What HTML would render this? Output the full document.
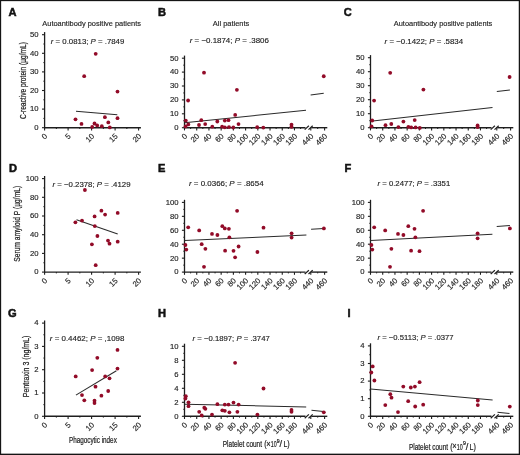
<!DOCTYPE html>
<html><head><meta charset="utf-8"><style>
html,body{margin:0;padding:0;background:#fff;width:520px;height:455px;overflow:hidden}
svg{display:block;filter:blur(0.35px)}
text{font-family:"Liberation Sans", sans-serif; stroke:#1e1e1e; stroke-width:0.15px}
</style></head><body>
<svg width="520" height="455" viewBox="0 0 520 455" style='font-family:"Liberation Sans", sans-serif'>
<rect x="0" y="0" width="520" height="455" fill="#fff"/>
<text x="8.60" y="16.00" font-size="11.1" text-anchor="start" font-weight="bold" fill="#111" style="stroke:#111;stroke-width:0.5px">A</text>
<text x="158.10" y="16.10" font-size="11.1" text-anchor="start" font-weight="bold" fill="#111" style="stroke:#111;stroke-width:0.5px">B</text>
<text x="343.70" y="15.90" font-size="11.1" text-anchor="start" font-weight="bold" fill="#111" style="stroke:#111;stroke-width:0.5px">C</text>
<text x="8.90" y="172.10" font-size="11.1" text-anchor="start" font-weight="bold" fill="#111" style="stroke:#111;stroke-width:0.5px">D</text>
<text x="158.10" y="171.80" font-size="11.1" text-anchor="start" font-weight="bold" fill="#111" style="stroke:#111;stroke-width:0.5px">E</text>
<text x="344.40" y="171.80" font-size="11.1" text-anchor="start" font-weight="bold" fill="#111" style="stroke:#111;stroke-width:0.5px">F</text>
<text x="8.10" y="316.80" font-size="11.1" text-anchor="start" font-weight="bold" fill="#111" style="stroke:#111;stroke-width:0.5px">G</text>
<text x="158.10" y="316.80" font-size="11.1" text-anchor="start" font-weight="bold" fill="#111" style="stroke:#111;stroke-width:0.5px">H</text>
<text x="347.40" y="316.80" font-size="11.1" text-anchor="start" font-weight="bold" fill="#111" style="stroke:#111;stroke-width:0.5px">I</text>
<text x="42.30" y="25.80" font-size="7.9" text-anchor="start" font-weight="normal" fill="#1e1e1e" textLength="98.7" lengthAdjust="spacingAndGlyphs" >Autoantibody positive patients</text>
<text x="212.80" y="25.80" font-size="7.9" text-anchor="start" font-weight="normal" fill="#1e1e1e" textLength="36.4" lengthAdjust="spacingAndGlyphs" >All patients</text>
<text x="393.80" y="25.90" font-size="7.9" text-anchor="start" font-weight="normal" fill="#1e1e1e" textLength="98.5" lengthAdjust="spacingAndGlyphs" >Autoantibody positive patients</text>
<text x="50.80" y="43.90" font-size="7.7" fill="#1e1e1e" textLength="73.5" lengthAdjust="spacingAndGlyphs"><tspan font-style="italic">r</tspan> = 0.0813; <tspan font-style="italic">P</tspan> = .7849</text>
<text x="189.70" y="43.20" font-size="7.7" fill="#1e1e1e" textLength="79.2" lengthAdjust="spacingAndGlyphs"><tspan font-style="italic">r</tspan> = −0.1874; <tspan font-style="italic">P</tspan> = .3806</text>
<text x="384.60" y="43.50" font-size="7.7" fill="#1e1e1e" textLength="78.5" lengthAdjust="spacingAndGlyphs"><tspan font-style="italic">r</tspan> = −0.1422; <tspan font-style="italic">P</tspan> = .5834</text>
<text x="52.50" y="186.60" font-size="7.7" fill="#1e1e1e" textLength="78.0" lengthAdjust="spacingAndGlyphs"><tspan font-style="italic">r</tspan> = −0.2378; <tspan font-style="italic">P</tspan> = .4129</text>
<text x="189.00" y="186.00" font-size="7.7" fill="#1e1e1e" textLength="74.6" lengthAdjust="spacingAndGlyphs"><tspan font-style="italic">r</tspan> = 0.0366; <tspan font-style="italic">P</tspan> = .8654</text>
<text x="377.50" y="186.00" font-size="7.7" fill="#1e1e1e" textLength="72.7" lengthAdjust="spacingAndGlyphs"><tspan font-style="italic">r</tspan> = 0.2477; <tspan font-style="italic">P</tspan> = .3351</text>
<text x="49.80" y="340.90" font-size="7.7" fill="#1e1e1e" textLength="74.6" lengthAdjust="spacingAndGlyphs"><tspan font-style="italic">r</tspan> = 0.4462; <tspan font-style="italic">P</tspan> = ,1098</text>
<text x="192.50" y="340.80" font-size="7.7" fill="#1e1e1e" textLength="77.3" lengthAdjust="spacingAndGlyphs"><tspan font-style="italic">r</tspan> = −0.1897; <tspan font-style="italic">P</tspan> = .3747</text>
<text x="377.50" y="340.40" font-size="7.7" fill="#1e1e1e" textLength="76.0" lengthAdjust="spacingAndGlyphs"><tspan font-style="italic">r</tspan> = −0.5113; <tspan font-style="italic">P</tspan> = .0377</text>
<text transform="translate(25.80,80.50) rotate(-90)" x="0" y="0" font-size="8.6" text-anchor="middle" fill="#1e1e1e" style="stroke:#1e1e1e;stroke-width:0.22px" textLength="77" lengthAdjust="spacingAndGlyphs">C-reactive protein (µg/mL)</text>
<text transform="translate(19.90,223.80) rotate(-90)" x="0" y="0" font-size="8.6" text-anchor="middle" fill="#1e1e1e" style="stroke:#1e1e1e;stroke-width:0.22px" textLength="76" lengthAdjust="spacingAndGlyphs">Serum amyloid P (µg/mL)</text>
<text transform="translate(28.50,366.40) rotate(-90)" x="0" y="0" font-size="8.6" text-anchor="middle" fill="#1e1e1e" style="stroke:#1e1e1e;stroke-width:0.22px" textLength="61.7" lengthAdjust="spacingAndGlyphs">Pentraxin 3 (ng/mL)</text>
<text x="69.00" y="442.90" font-size="8.8" text-anchor="start" font-weight="normal" fill="#1e1e1e" textLength="47.8" lengthAdjust="spacingAndGlyphs" style="stroke:#1e1e1e;stroke-width:0.22px">Phagocytic index</text>
<text x="222.80" y="447.20" font-size="9.0" text-anchor="start" font-weight="normal" fill="#1e1e1e" textLength="39.2" lengthAdjust="spacingAndGlyphs" style="stroke:#1e1e1e;stroke-width:0.22px">Platelet count</text>
<text x="264.20" y="447.40" font-size="8.8" text-anchor="start" font-weight="normal" fill="#1e1e1e" textLength="2.4" lengthAdjust="spacingAndGlyphs" style="stroke:#1e1e1e;stroke-width:0.22px">(</text>
<text x="266.20" y="446.60" font-size="9.0" text-anchor="start" font-weight="normal" fill="#1e1e1e" textLength="4.4" lengthAdjust="spacingAndGlyphs" style="stroke:#1e1e1e;stroke-width:0.22px">×</text>
<text x="270.70" y="447.20" font-size="9.0" text-anchor="start" font-weight="normal" fill="#1e1e1e" textLength="5.9" lengthAdjust="spacingAndGlyphs" style="stroke:#1e1e1e;stroke-width:0.22px">10</text>
<text x="276.80" y="443.00" font-size="5.8" text-anchor="start" font-weight="normal" fill="#1e1e1e" textLength="2.9" lengthAdjust="spacingAndGlyphs" style="stroke:#1e1e1e;stroke-width:0.22px">9</text>
<text x="279.60" y="447.20" font-size="8.8" text-anchor="start" font-weight="normal" fill="#1e1e1e" textLength="2.6" lengthAdjust="spacingAndGlyphs" style="stroke:#1e1e1e;stroke-width:0.22px">/</text>
<text x="283.40" y="447.20" font-size="9.0" text-anchor="start" font-weight="normal" fill="#1e1e1e" textLength="3.9" lengthAdjust="spacingAndGlyphs" style="stroke:#1e1e1e;stroke-width:0.22px">L</text>
<text x="287.30" y="447.40" font-size="8.8" text-anchor="start" font-weight="normal" fill="#1e1e1e" textLength="2.4" lengthAdjust="spacingAndGlyphs" style="stroke:#1e1e1e;stroke-width:0.22px">)</text>
<text x="408.90" y="449.50" font-size="9.0" text-anchor="start" font-weight="normal" fill="#1e1e1e" textLength="39.2" lengthAdjust="spacingAndGlyphs" style="stroke:#1e1e1e;stroke-width:0.22px">Platelet count</text>
<text x="450.30" y="449.70" font-size="8.8" text-anchor="start" font-weight="normal" fill="#1e1e1e" textLength="2.4" lengthAdjust="spacingAndGlyphs" style="stroke:#1e1e1e;stroke-width:0.22px">(</text>
<text x="452.30" y="448.90" font-size="9.0" text-anchor="start" font-weight="normal" fill="#1e1e1e" textLength="4.4" lengthAdjust="spacingAndGlyphs" style="stroke:#1e1e1e;stroke-width:0.22px">×</text>
<text x="456.80" y="449.50" font-size="9.0" text-anchor="start" font-weight="normal" fill="#1e1e1e" textLength="5.9" lengthAdjust="spacingAndGlyphs" style="stroke:#1e1e1e;stroke-width:0.22px">10</text>
<text x="462.90" y="445.30" font-size="5.8" text-anchor="start" font-weight="normal" fill="#1e1e1e" textLength="2.9" lengthAdjust="spacingAndGlyphs" style="stroke:#1e1e1e;stroke-width:0.22px">9</text>
<text x="465.70" y="449.50" font-size="8.8" text-anchor="start" font-weight="normal" fill="#1e1e1e" textLength="2.6" lengthAdjust="spacingAndGlyphs" style="stroke:#1e1e1e;stroke-width:0.22px">/</text>
<text x="469.50" y="449.50" font-size="9.0" text-anchor="start" font-weight="normal" fill="#1e1e1e" textLength="3.9" lengthAdjust="spacingAndGlyphs" style="stroke:#1e1e1e;stroke-width:0.22px">L</text>
<text x="473.40" y="449.70" font-size="8.8" text-anchor="start" font-weight="normal" fill="#1e1e1e" textLength="2.4" lengthAdjust="spacingAndGlyphs" style="stroke:#1e1e1e;stroke-width:0.22px">)</text>
<line x1="44.60" y1="32.10" x2="44.60" y2="128.30" stroke="#1e1e1e" stroke-width="1.3"/>
<line x1="42.00" y1="127.70" x2="44.60" y2="127.70" stroke="#1e1e1e" stroke-width="1.1"/>
<text x="38.60" y="130.05" font-size="7.7" text-anchor="end" font-weight="normal" fill="#1e1e1e" >0</text>
<line x1="42.00" y1="109.10" x2="44.60" y2="109.10" stroke="#1e1e1e" stroke-width="1.1"/>
<text x="38.60" y="111.45" font-size="7.7" text-anchor="end" font-weight="normal" fill="#1e1e1e" >10</text>
<line x1="42.00" y1="90.50" x2="44.60" y2="90.50" stroke="#1e1e1e" stroke-width="1.1"/>
<text x="38.60" y="92.85" font-size="7.7" text-anchor="end" font-weight="normal" fill="#1e1e1e" >20</text>
<line x1="42.00" y1="71.90" x2="44.60" y2="71.90" stroke="#1e1e1e" stroke-width="1.1"/>
<text x="38.60" y="74.25" font-size="7.7" text-anchor="end" font-weight="normal" fill="#1e1e1e" >30</text>
<line x1="42.00" y1="53.30" x2="44.60" y2="53.30" stroke="#1e1e1e" stroke-width="1.1"/>
<text x="38.60" y="55.65" font-size="7.7" text-anchor="end" font-weight="normal" fill="#1e1e1e" >40</text>
<line x1="42.00" y1="34.70" x2="44.60" y2="34.70" stroke="#1e1e1e" stroke-width="1.1"/>
<text x="38.60" y="37.05" font-size="7.7" text-anchor="end" font-weight="normal" fill="#1e1e1e" >50</text>
<line x1="43.40" y1="118.40" x2="44.60" y2="118.40" stroke="#1e1e1e" stroke-width="1.0"/>
<line x1="43.40" y1="99.80" x2="44.60" y2="99.80" stroke="#1e1e1e" stroke-width="1.0"/>
<line x1="43.40" y1="81.20" x2="44.60" y2="81.20" stroke="#1e1e1e" stroke-width="1.0"/>
<line x1="43.40" y1="62.60" x2="44.60" y2="62.60" stroke="#1e1e1e" stroke-width="1.0"/>
<line x1="43.40" y1="44.00" x2="44.60" y2="44.00" stroke="#1e1e1e" stroke-width="1.0"/>
<line x1="44.00" y1="127.70" x2="140.90" y2="127.70" stroke="#1e1e1e" stroke-width="1.4"/>
<line x1="44.60" y1="127.70" x2="44.60" y2="130.40" stroke="#1e1e1e" stroke-width="1.1"/>
<text transform="translate(44.60,127.70) rotate(-45)" x="-4.2" y="8.7" font-size="7.7" text-anchor="end" fill="#1e1e1e">0</text>
<line x1="68.10" y1="127.70" x2="68.10" y2="130.40" stroke="#1e1e1e" stroke-width="1.1"/>
<text transform="translate(68.10,127.70) rotate(-45)" x="-4.2" y="8.7" font-size="7.7" text-anchor="end" fill="#1e1e1e">5</text>
<line x1="91.60" y1="127.70" x2="91.60" y2="130.40" stroke="#1e1e1e" stroke-width="1.1"/>
<text transform="translate(91.60,127.70) rotate(-45)" x="-4.2" y="8.7" font-size="7.7" text-anchor="end" fill="#1e1e1e">10</text>
<line x1="115.10" y1="127.70" x2="115.10" y2="130.40" stroke="#1e1e1e" stroke-width="1.1"/>
<text transform="translate(115.10,127.70) rotate(-45)" x="-4.2" y="8.7" font-size="7.7" text-anchor="end" fill="#1e1e1e">15</text>
<line x1="138.60" y1="127.70" x2="138.60" y2="130.40" stroke="#1e1e1e" stroke-width="1.1"/>
<text transform="translate(138.60,127.70) rotate(-45)" x="-4.2" y="8.7" font-size="7.7" text-anchor="end" fill="#1e1e1e">20</text>
<line x1="56.35" y1="127.70" x2="56.35" y2="129.00" stroke="#1e1e1e" stroke-width="1.0"/>
<line x1="79.85" y1="127.70" x2="79.85" y2="129.00" stroke="#1e1e1e" stroke-width="1.0"/>
<line x1="103.35" y1="127.70" x2="103.35" y2="129.00" stroke="#1e1e1e" stroke-width="1.0"/>
<line x1="126.85" y1="127.70" x2="126.85" y2="129.00" stroke="#1e1e1e" stroke-width="1.0"/>
<line x1="184.50" y1="55.60" x2="184.50" y2="128.30" stroke="#1e1e1e" stroke-width="1.3"/>
<line x1="181.90" y1="127.70" x2="184.50" y2="127.70" stroke="#1e1e1e" stroke-width="1.1"/>
<text x="178.50" y="130.05" font-size="7.7" text-anchor="end" font-weight="normal" fill="#1e1e1e" >0</text>
<line x1="181.90" y1="113.80" x2="184.50" y2="113.80" stroke="#1e1e1e" stroke-width="1.1"/>
<text x="178.50" y="116.15" font-size="7.7" text-anchor="end" font-weight="normal" fill="#1e1e1e" >10</text>
<line x1="181.90" y1="99.90" x2="184.50" y2="99.90" stroke="#1e1e1e" stroke-width="1.1"/>
<text x="178.50" y="102.25" font-size="7.7" text-anchor="end" font-weight="normal" fill="#1e1e1e" >20</text>
<line x1="181.90" y1="86.00" x2="184.50" y2="86.00" stroke="#1e1e1e" stroke-width="1.1"/>
<text x="178.50" y="88.35" font-size="7.7" text-anchor="end" font-weight="normal" fill="#1e1e1e" >30</text>
<line x1="181.90" y1="72.10" x2="184.50" y2="72.10" stroke="#1e1e1e" stroke-width="1.1"/>
<text x="178.50" y="74.45" font-size="7.7" text-anchor="end" font-weight="normal" fill="#1e1e1e" >40</text>
<line x1="181.90" y1="58.20" x2="184.50" y2="58.20" stroke="#1e1e1e" stroke-width="1.1"/>
<text x="178.50" y="60.55" font-size="7.7" text-anchor="end" font-weight="normal" fill="#1e1e1e" >50</text>
<line x1="183.30" y1="120.75" x2="184.50" y2="120.75" stroke="#1e1e1e" stroke-width="1.0"/>
<line x1="183.30" y1="106.85" x2="184.50" y2="106.85" stroke="#1e1e1e" stroke-width="1.0"/>
<line x1="183.30" y1="92.95" x2="184.50" y2="92.95" stroke="#1e1e1e" stroke-width="1.0"/>
<line x1="183.30" y1="79.05" x2="184.50" y2="79.05" stroke="#1e1e1e" stroke-width="1.0"/>
<line x1="183.30" y1="65.15" x2="184.50" y2="65.15" stroke="#1e1e1e" stroke-width="1.0"/>
<line x1="183.90" y1="127.70" x2="305.50" y2="127.70" stroke="#1e1e1e" stroke-width="1.4"/>
<line x1="311.30" y1="127.70" x2="327.30" y2="127.70" stroke="#1e1e1e" stroke-width="1.4"/>
<line x1="304.70" y1="129.60" x2="308.90" y2="125.80" stroke="#1e1e1e" stroke-width="1.2"/>
<line x1="308.50" y1="129.60" x2="312.70" y2="125.80" stroke="#1e1e1e" stroke-width="1.2"/>
<line x1="184.50" y1="127.70" x2="184.50" y2="130.40" stroke="#1e1e1e" stroke-width="1.1"/>
<text transform="translate(184.50,127.70) rotate(-45)" x="-4.2" y="8.7" font-size="7.7" text-anchor="end" fill="#1e1e1e">0</text>
<line x1="196.72" y1="127.70" x2="196.72" y2="130.40" stroke="#1e1e1e" stroke-width="1.1"/>
<text transform="translate(196.72,127.70) rotate(-45)" x="-4.2" y="8.7" font-size="7.7" text-anchor="end" fill="#1e1e1e">20</text>
<line x1="208.94" y1="127.70" x2="208.94" y2="130.40" stroke="#1e1e1e" stroke-width="1.1"/>
<text transform="translate(208.94,127.70) rotate(-45)" x="-4.2" y="8.7" font-size="7.7" text-anchor="end" fill="#1e1e1e">40</text>
<line x1="221.16" y1="127.70" x2="221.16" y2="130.40" stroke="#1e1e1e" stroke-width="1.1"/>
<text transform="translate(221.16,127.70) rotate(-45)" x="-4.2" y="8.7" font-size="7.7" text-anchor="end" fill="#1e1e1e">60</text>
<line x1="233.38" y1="127.70" x2="233.38" y2="130.40" stroke="#1e1e1e" stroke-width="1.1"/>
<text transform="translate(233.38,127.70) rotate(-45)" x="-4.2" y="8.7" font-size="7.7" text-anchor="end" fill="#1e1e1e">80</text>
<line x1="245.60" y1="127.70" x2="245.60" y2="130.40" stroke="#1e1e1e" stroke-width="1.1"/>
<text transform="translate(245.60,127.70) rotate(-45)" x="-4.2" y="8.7" font-size="7.7" text-anchor="end" fill="#1e1e1e">100</text>
<line x1="257.82" y1="127.70" x2="257.82" y2="130.40" stroke="#1e1e1e" stroke-width="1.1"/>
<text transform="translate(257.82,127.70) rotate(-45)" x="-4.2" y="8.7" font-size="7.7" text-anchor="end" fill="#1e1e1e">120</text>
<line x1="270.04" y1="127.70" x2="270.04" y2="130.40" stroke="#1e1e1e" stroke-width="1.1"/>
<text transform="translate(270.04,127.70) rotate(-45)" x="-4.2" y="8.7" font-size="7.7" text-anchor="end" fill="#1e1e1e">140</text>
<line x1="282.26" y1="127.70" x2="282.26" y2="130.40" stroke="#1e1e1e" stroke-width="1.1"/>
<text transform="translate(282.26,127.70) rotate(-45)" x="-4.2" y="8.7" font-size="7.7" text-anchor="end" fill="#1e1e1e">160</text>
<line x1="294.48" y1="127.70" x2="294.48" y2="130.40" stroke="#1e1e1e" stroke-width="1.1"/>
<text transform="translate(294.48,127.70) rotate(-45)" x="-4.2" y="8.7" font-size="7.7" text-anchor="end" fill="#1e1e1e">180</text>
<line x1="190.61" y1="127.70" x2="190.61" y2="129.00" stroke="#1e1e1e" stroke-width="1.0"/>
<line x1="202.83" y1="127.70" x2="202.83" y2="129.00" stroke="#1e1e1e" stroke-width="1.0"/>
<line x1="215.05" y1="127.70" x2="215.05" y2="129.00" stroke="#1e1e1e" stroke-width="1.0"/>
<line x1="227.27" y1="127.70" x2="227.27" y2="129.00" stroke="#1e1e1e" stroke-width="1.0"/>
<line x1="239.49" y1="127.70" x2="239.49" y2="129.00" stroke="#1e1e1e" stroke-width="1.0"/>
<line x1="251.71" y1="127.70" x2="251.71" y2="129.00" stroke="#1e1e1e" stroke-width="1.0"/>
<line x1="263.93" y1="127.70" x2="263.93" y2="129.00" stroke="#1e1e1e" stroke-width="1.0"/>
<line x1="276.15" y1="127.70" x2="276.15" y2="129.00" stroke="#1e1e1e" stroke-width="1.0"/>
<line x1="288.37" y1="127.70" x2="288.37" y2="129.00" stroke="#1e1e1e" stroke-width="1.0"/>
<line x1="300.59" y1="127.70" x2="300.59" y2="129.00" stroke="#1e1e1e" stroke-width="1.0"/>
<line x1="310.80" y1="127.70" x2="310.80" y2="130.40" stroke="#1e1e1e" stroke-width="1.1"/>
<text transform="translate(310.80,127.70) rotate(-45)" x="-4.2" y="8.7" font-size="7.7" text-anchor="end" fill="#1e1e1e">440</text>
<line x1="324.60" y1="127.70" x2="324.60" y2="130.40" stroke="#1e1e1e" stroke-width="1.1"/>
<text transform="translate(324.60,127.70) rotate(-45)" x="-4.2" y="8.7" font-size="7.7" text-anchor="end" fill="#1e1e1e">460</text>
<line x1="317.70" y1="127.70" x2="317.70" y2="129.00" stroke="#1e1e1e" stroke-width="1.0"/>
<line x1="370.50" y1="55.10" x2="370.50" y2="128.30" stroke="#1e1e1e" stroke-width="1.3"/>
<line x1="367.90" y1="127.70" x2="370.50" y2="127.70" stroke="#1e1e1e" stroke-width="1.1"/>
<text x="364.50" y="130.05" font-size="7.7" text-anchor="end" font-weight="normal" fill="#1e1e1e" >0</text>
<line x1="367.90" y1="113.70" x2="370.50" y2="113.70" stroke="#1e1e1e" stroke-width="1.1"/>
<text x="364.50" y="116.05" font-size="7.7" text-anchor="end" font-weight="normal" fill="#1e1e1e" >10</text>
<line x1="367.90" y1="99.70" x2="370.50" y2="99.70" stroke="#1e1e1e" stroke-width="1.1"/>
<text x="364.50" y="102.05" font-size="7.7" text-anchor="end" font-weight="normal" fill="#1e1e1e" >20</text>
<line x1="367.90" y1="85.70" x2="370.50" y2="85.70" stroke="#1e1e1e" stroke-width="1.1"/>
<text x="364.50" y="88.05" font-size="7.7" text-anchor="end" font-weight="normal" fill="#1e1e1e" >30</text>
<line x1="367.90" y1="71.70" x2="370.50" y2="71.70" stroke="#1e1e1e" stroke-width="1.1"/>
<text x="364.50" y="74.05" font-size="7.7" text-anchor="end" font-weight="normal" fill="#1e1e1e" >40</text>
<line x1="367.90" y1="57.70" x2="370.50" y2="57.70" stroke="#1e1e1e" stroke-width="1.1"/>
<text x="364.50" y="60.05" font-size="7.7" text-anchor="end" font-weight="normal" fill="#1e1e1e" >50</text>
<line x1="369.30" y1="120.70" x2="370.50" y2="120.70" stroke="#1e1e1e" stroke-width="1.0"/>
<line x1="369.30" y1="106.70" x2="370.50" y2="106.70" stroke="#1e1e1e" stroke-width="1.0"/>
<line x1="369.30" y1="92.70" x2="370.50" y2="92.70" stroke="#1e1e1e" stroke-width="1.0"/>
<line x1="369.30" y1="78.70" x2="370.50" y2="78.70" stroke="#1e1e1e" stroke-width="1.0"/>
<line x1="369.30" y1="64.70" x2="370.50" y2="64.70" stroke="#1e1e1e" stroke-width="1.0"/>
<line x1="369.90" y1="127.70" x2="491.50" y2="127.70" stroke="#1e1e1e" stroke-width="1.4"/>
<line x1="497.30" y1="127.70" x2="513.30" y2="127.70" stroke="#1e1e1e" stroke-width="1.4"/>
<line x1="490.70" y1="129.60" x2="494.90" y2="125.80" stroke="#1e1e1e" stroke-width="1.2"/>
<line x1="494.50" y1="129.60" x2="498.70" y2="125.80" stroke="#1e1e1e" stroke-width="1.2"/>
<line x1="370.50" y1="127.70" x2="370.50" y2="130.40" stroke="#1e1e1e" stroke-width="1.1"/>
<text transform="translate(370.50,127.70) rotate(-45)" x="-4.2" y="8.7" font-size="7.7" text-anchor="end" fill="#1e1e1e">0</text>
<line x1="382.72" y1="127.70" x2="382.72" y2="130.40" stroke="#1e1e1e" stroke-width="1.1"/>
<text transform="translate(382.72,127.70) rotate(-45)" x="-4.2" y="8.7" font-size="7.7" text-anchor="end" fill="#1e1e1e">20</text>
<line x1="394.94" y1="127.70" x2="394.94" y2="130.40" stroke="#1e1e1e" stroke-width="1.1"/>
<text transform="translate(394.94,127.70) rotate(-45)" x="-4.2" y="8.7" font-size="7.7" text-anchor="end" fill="#1e1e1e">40</text>
<line x1="407.16" y1="127.70" x2="407.16" y2="130.40" stroke="#1e1e1e" stroke-width="1.1"/>
<text transform="translate(407.16,127.70) rotate(-45)" x="-4.2" y="8.7" font-size="7.7" text-anchor="end" fill="#1e1e1e">60</text>
<line x1="419.38" y1="127.70" x2="419.38" y2="130.40" stroke="#1e1e1e" stroke-width="1.1"/>
<text transform="translate(419.38,127.70) rotate(-45)" x="-4.2" y="8.7" font-size="7.7" text-anchor="end" fill="#1e1e1e">80</text>
<line x1="431.60" y1="127.70" x2="431.60" y2="130.40" stroke="#1e1e1e" stroke-width="1.1"/>
<text transform="translate(431.60,127.70) rotate(-45)" x="-4.2" y="8.7" font-size="7.7" text-anchor="end" fill="#1e1e1e">100</text>
<line x1="443.82" y1="127.70" x2="443.82" y2="130.40" stroke="#1e1e1e" stroke-width="1.1"/>
<text transform="translate(443.82,127.70) rotate(-45)" x="-4.2" y="8.7" font-size="7.7" text-anchor="end" fill="#1e1e1e">120</text>
<line x1="456.04" y1="127.70" x2="456.04" y2="130.40" stroke="#1e1e1e" stroke-width="1.1"/>
<text transform="translate(456.04,127.70) rotate(-45)" x="-4.2" y="8.7" font-size="7.7" text-anchor="end" fill="#1e1e1e">140</text>
<line x1="468.26" y1="127.70" x2="468.26" y2="130.40" stroke="#1e1e1e" stroke-width="1.1"/>
<text transform="translate(468.26,127.70) rotate(-45)" x="-4.2" y="8.7" font-size="7.7" text-anchor="end" fill="#1e1e1e">160</text>
<line x1="480.48" y1="127.70" x2="480.48" y2="130.40" stroke="#1e1e1e" stroke-width="1.1"/>
<text transform="translate(480.48,127.70) rotate(-45)" x="-4.2" y="8.7" font-size="7.7" text-anchor="end" fill="#1e1e1e">180</text>
<line x1="376.61" y1="127.70" x2="376.61" y2="129.00" stroke="#1e1e1e" stroke-width="1.0"/>
<line x1="388.83" y1="127.70" x2="388.83" y2="129.00" stroke="#1e1e1e" stroke-width="1.0"/>
<line x1="401.05" y1="127.70" x2="401.05" y2="129.00" stroke="#1e1e1e" stroke-width="1.0"/>
<line x1="413.27" y1="127.70" x2="413.27" y2="129.00" stroke="#1e1e1e" stroke-width="1.0"/>
<line x1="425.49" y1="127.70" x2="425.49" y2="129.00" stroke="#1e1e1e" stroke-width="1.0"/>
<line x1="437.71" y1="127.70" x2="437.71" y2="129.00" stroke="#1e1e1e" stroke-width="1.0"/>
<line x1="449.93" y1="127.70" x2="449.93" y2="129.00" stroke="#1e1e1e" stroke-width="1.0"/>
<line x1="462.15" y1="127.70" x2="462.15" y2="129.00" stroke="#1e1e1e" stroke-width="1.0"/>
<line x1="474.37" y1="127.70" x2="474.37" y2="129.00" stroke="#1e1e1e" stroke-width="1.0"/>
<line x1="486.59" y1="127.70" x2="486.59" y2="129.00" stroke="#1e1e1e" stroke-width="1.0"/>
<line x1="496.80" y1="127.70" x2="496.80" y2="130.40" stroke="#1e1e1e" stroke-width="1.1"/>
<text transform="translate(496.80,127.70) rotate(-45)" x="-4.2" y="8.7" font-size="7.7" text-anchor="end" fill="#1e1e1e">440</text>
<line x1="510.60" y1="127.70" x2="510.60" y2="130.40" stroke="#1e1e1e" stroke-width="1.1"/>
<text transform="translate(510.60,127.70) rotate(-45)" x="-4.2" y="8.7" font-size="7.7" text-anchor="end" fill="#1e1e1e">460</text>
<line x1="503.70" y1="127.70" x2="503.70" y2="129.00" stroke="#1e1e1e" stroke-width="1.0"/>
<line x1="44.60" y1="176.00" x2="44.60" y2="272.70" stroke="#1e1e1e" stroke-width="1.3"/>
<line x1="42.00" y1="272.10" x2="44.60" y2="272.10" stroke="#1e1e1e" stroke-width="1.1"/>
<text x="38.60" y="274.45" font-size="7.7" text-anchor="end" font-weight="normal" fill="#1e1e1e" >0</text>
<line x1="42.00" y1="253.40" x2="44.60" y2="253.40" stroke="#1e1e1e" stroke-width="1.1"/>
<text x="38.60" y="255.75" font-size="7.7" text-anchor="end" font-weight="normal" fill="#1e1e1e" >20</text>
<line x1="42.00" y1="234.70" x2="44.60" y2="234.70" stroke="#1e1e1e" stroke-width="1.1"/>
<text x="38.60" y="237.05" font-size="7.7" text-anchor="end" font-weight="normal" fill="#1e1e1e" >40</text>
<line x1="42.00" y1="216.00" x2="44.60" y2="216.00" stroke="#1e1e1e" stroke-width="1.1"/>
<text x="38.60" y="218.35" font-size="7.7" text-anchor="end" font-weight="normal" fill="#1e1e1e" >60</text>
<line x1="42.00" y1="197.30" x2="44.60" y2="197.30" stroke="#1e1e1e" stroke-width="1.1"/>
<text x="38.60" y="199.65" font-size="7.7" text-anchor="end" font-weight="normal" fill="#1e1e1e" >80</text>
<line x1="42.00" y1="178.60" x2="44.60" y2="178.60" stroke="#1e1e1e" stroke-width="1.1"/>
<text x="38.60" y="180.95" font-size="7.7" text-anchor="end" font-weight="normal" fill="#1e1e1e" >100</text>
<line x1="43.40" y1="262.75" x2="44.60" y2="262.75" stroke="#1e1e1e" stroke-width="1.0"/>
<line x1="43.40" y1="244.05" x2="44.60" y2="244.05" stroke="#1e1e1e" stroke-width="1.0"/>
<line x1="43.40" y1="225.35" x2="44.60" y2="225.35" stroke="#1e1e1e" stroke-width="1.0"/>
<line x1="43.40" y1="206.65" x2="44.60" y2="206.65" stroke="#1e1e1e" stroke-width="1.0"/>
<line x1="43.40" y1="187.95" x2="44.60" y2="187.95" stroke="#1e1e1e" stroke-width="1.0"/>
<line x1="44.00" y1="272.10" x2="140.90" y2="272.10" stroke="#1e1e1e" stroke-width="1.4"/>
<line x1="44.60" y1="272.10" x2="44.60" y2="274.80" stroke="#1e1e1e" stroke-width="1.1"/>
<text transform="translate(44.60,272.10) rotate(-45)" x="-4.2" y="8.7" font-size="7.7" text-anchor="end" fill="#1e1e1e">0</text>
<line x1="68.10" y1="272.10" x2="68.10" y2="274.80" stroke="#1e1e1e" stroke-width="1.1"/>
<text transform="translate(68.10,272.10) rotate(-45)" x="-4.2" y="8.7" font-size="7.7" text-anchor="end" fill="#1e1e1e">5</text>
<line x1="91.60" y1="272.10" x2="91.60" y2="274.80" stroke="#1e1e1e" stroke-width="1.1"/>
<text transform="translate(91.60,272.10) rotate(-45)" x="-4.2" y="8.7" font-size="7.7" text-anchor="end" fill="#1e1e1e">10</text>
<line x1="115.10" y1="272.10" x2="115.10" y2="274.80" stroke="#1e1e1e" stroke-width="1.1"/>
<text transform="translate(115.10,272.10) rotate(-45)" x="-4.2" y="8.7" font-size="7.7" text-anchor="end" fill="#1e1e1e">15</text>
<line x1="138.60" y1="272.10" x2="138.60" y2="274.80" stroke="#1e1e1e" stroke-width="1.1"/>
<text transform="translate(138.60,272.10) rotate(-45)" x="-4.2" y="8.7" font-size="7.7" text-anchor="end" fill="#1e1e1e">20</text>
<line x1="56.35" y1="272.10" x2="56.35" y2="273.40" stroke="#1e1e1e" stroke-width="1.0"/>
<line x1="79.85" y1="272.10" x2="79.85" y2="273.40" stroke="#1e1e1e" stroke-width="1.0"/>
<line x1="103.35" y1="272.10" x2="103.35" y2="273.40" stroke="#1e1e1e" stroke-width="1.0"/>
<line x1="126.85" y1="272.10" x2="126.85" y2="273.40" stroke="#1e1e1e" stroke-width="1.0"/>
<line x1="184.50" y1="199.80" x2="184.50" y2="272.70" stroke="#1e1e1e" stroke-width="1.3"/>
<line x1="181.90" y1="272.10" x2="184.50" y2="272.10" stroke="#1e1e1e" stroke-width="1.1"/>
<text x="178.50" y="274.45" font-size="7.7" text-anchor="end" font-weight="normal" fill="#1e1e1e" >0</text>
<line x1="181.90" y1="258.16" x2="184.50" y2="258.16" stroke="#1e1e1e" stroke-width="1.1"/>
<text x="178.50" y="260.51" font-size="7.7" text-anchor="end" font-weight="normal" fill="#1e1e1e" >20</text>
<line x1="181.90" y1="244.22" x2="184.50" y2="244.22" stroke="#1e1e1e" stroke-width="1.1"/>
<text x="178.50" y="246.57" font-size="7.7" text-anchor="end" font-weight="normal" fill="#1e1e1e" >40</text>
<line x1="181.90" y1="230.28" x2="184.50" y2="230.28" stroke="#1e1e1e" stroke-width="1.1"/>
<text x="178.50" y="232.63" font-size="7.7" text-anchor="end" font-weight="normal" fill="#1e1e1e" >60</text>
<line x1="181.90" y1="216.34" x2="184.50" y2="216.34" stroke="#1e1e1e" stroke-width="1.1"/>
<text x="178.50" y="218.69" font-size="7.7" text-anchor="end" font-weight="normal" fill="#1e1e1e" >80</text>
<line x1="181.90" y1="202.40" x2="184.50" y2="202.40" stroke="#1e1e1e" stroke-width="1.1"/>
<text x="178.50" y="204.75" font-size="7.7" text-anchor="end" font-weight="normal" fill="#1e1e1e" >100</text>
<line x1="183.30" y1="265.13" x2="184.50" y2="265.13" stroke="#1e1e1e" stroke-width="1.0"/>
<line x1="183.30" y1="251.19" x2="184.50" y2="251.19" stroke="#1e1e1e" stroke-width="1.0"/>
<line x1="183.30" y1="237.25" x2="184.50" y2="237.25" stroke="#1e1e1e" stroke-width="1.0"/>
<line x1="183.30" y1="223.31" x2="184.50" y2="223.31" stroke="#1e1e1e" stroke-width="1.0"/>
<line x1="183.30" y1="209.37" x2="184.50" y2="209.37" stroke="#1e1e1e" stroke-width="1.0"/>
<line x1="183.90" y1="272.10" x2="305.50" y2="272.10" stroke="#1e1e1e" stroke-width="1.4"/>
<line x1="311.30" y1="272.10" x2="327.30" y2="272.10" stroke="#1e1e1e" stroke-width="1.4"/>
<line x1="304.70" y1="274.00" x2="308.90" y2="270.20" stroke="#1e1e1e" stroke-width="1.2"/>
<line x1="308.50" y1="274.00" x2="312.70" y2="270.20" stroke="#1e1e1e" stroke-width="1.2"/>
<line x1="184.50" y1="272.10" x2="184.50" y2="274.80" stroke="#1e1e1e" stroke-width="1.1"/>
<text transform="translate(184.50,272.10) rotate(-45)" x="-4.2" y="8.7" font-size="7.7" text-anchor="end" fill="#1e1e1e">0</text>
<line x1="196.72" y1="272.10" x2="196.72" y2="274.80" stroke="#1e1e1e" stroke-width="1.1"/>
<text transform="translate(196.72,272.10) rotate(-45)" x="-4.2" y="8.7" font-size="7.7" text-anchor="end" fill="#1e1e1e">20</text>
<line x1="208.94" y1="272.10" x2="208.94" y2="274.80" stroke="#1e1e1e" stroke-width="1.1"/>
<text transform="translate(208.94,272.10) rotate(-45)" x="-4.2" y="8.7" font-size="7.7" text-anchor="end" fill="#1e1e1e">40</text>
<line x1="221.16" y1="272.10" x2="221.16" y2="274.80" stroke="#1e1e1e" stroke-width="1.1"/>
<text transform="translate(221.16,272.10) rotate(-45)" x="-4.2" y="8.7" font-size="7.7" text-anchor="end" fill="#1e1e1e">60</text>
<line x1="233.38" y1="272.10" x2="233.38" y2="274.80" stroke="#1e1e1e" stroke-width="1.1"/>
<text transform="translate(233.38,272.10) rotate(-45)" x="-4.2" y="8.7" font-size="7.7" text-anchor="end" fill="#1e1e1e">80</text>
<line x1="245.60" y1="272.10" x2="245.60" y2="274.80" stroke="#1e1e1e" stroke-width="1.1"/>
<text transform="translate(245.60,272.10) rotate(-45)" x="-4.2" y="8.7" font-size="7.7" text-anchor="end" fill="#1e1e1e">100</text>
<line x1="257.82" y1="272.10" x2="257.82" y2="274.80" stroke="#1e1e1e" stroke-width="1.1"/>
<text transform="translate(257.82,272.10) rotate(-45)" x="-4.2" y="8.7" font-size="7.7" text-anchor="end" fill="#1e1e1e">120</text>
<line x1="270.04" y1="272.10" x2="270.04" y2="274.80" stroke="#1e1e1e" stroke-width="1.1"/>
<text transform="translate(270.04,272.10) rotate(-45)" x="-4.2" y="8.7" font-size="7.7" text-anchor="end" fill="#1e1e1e">140</text>
<line x1="282.26" y1="272.10" x2="282.26" y2="274.80" stroke="#1e1e1e" stroke-width="1.1"/>
<text transform="translate(282.26,272.10) rotate(-45)" x="-4.2" y="8.7" font-size="7.7" text-anchor="end" fill="#1e1e1e">160</text>
<line x1="294.48" y1="272.10" x2="294.48" y2="274.80" stroke="#1e1e1e" stroke-width="1.1"/>
<text transform="translate(294.48,272.10) rotate(-45)" x="-4.2" y="8.7" font-size="7.7" text-anchor="end" fill="#1e1e1e">180</text>
<line x1="190.61" y1="272.10" x2="190.61" y2="273.40" stroke="#1e1e1e" stroke-width="1.0"/>
<line x1="202.83" y1="272.10" x2="202.83" y2="273.40" stroke="#1e1e1e" stroke-width="1.0"/>
<line x1="215.05" y1="272.10" x2="215.05" y2="273.40" stroke="#1e1e1e" stroke-width="1.0"/>
<line x1="227.27" y1="272.10" x2="227.27" y2="273.40" stroke="#1e1e1e" stroke-width="1.0"/>
<line x1="239.49" y1="272.10" x2="239.49" y2="273.40" stroke="#1e1e1e" stroke-width="1.0"/>
<line x1="251.71" y1="272.10" x2="251.71" y2="273.40" stroke="#1e1e1e" stroke-width="1.0"/>
<line x1="263.93" y1="272.10" x2="263.93" y2="273.40" stroke="#1e1e1e" stroke-width="1.0"/>
<line x1="276.15" y1="272.10" x2="276.15" y2="273.40" stroke="#1e1e1e" stroke-width="1.0"/>
<line x1="288.37" y1="272.10" x2="288.37" y2="273.40" stroke="#1e1e1e" stroke-width="1.0"/>
<line x1="300.59" y1="272.10" x2="300.59" y2="273.40" stroke="#1e1e1e" stroke-width="1.0"/>
<line x1="310.80" y1="272.10" x2="310.80" y2="274.80" stroke="#1e1e1e" stroke-width="1.1"/>
<text transform="translate(310.80,272.10) rotate(-45)" x="-4.2" y="8.7" font-size="7.7" text-anchor="end" fill="#1e1e1e">440</text>
<line x1="324.60" y1="272.10" x2="324.60" y2="274.80" stroke="#1e1e1e" stroke-width="1.1"/>
<text transform="translate(324.60,272.10) rotate(-45)" x="-4.2" y="8.7" font-size="7.7" text-anchor="end" fill="#1e1e1e">460</text>
<line x1="317.70" y1="272.10" x2="317.70" y2="273.40" stroke="#1e1e1e" stroke-width="1.0"/>
<line x1="370.50" y1="199.80" x2="370.50" y2="272.70" stroke="#1e1e1e" stroke-width="1.3"/>
<line x1="367.90" y1="272.10" x2="370.50" y2="272.10" stroke="#1e1e1e" stroke-width="1.1"/>
<text x="364.50" y="274.45" font-size="7.7" text-anchor="end" font-weight="normal" fill="#1e1e1e" >0</text>
<line x1="367.90" y1="258.16" x2="370.50" y2="258.16" stroke="#1e1e1e" stroke-width="1.1"/>
<text x="364.50" y="260.51" font-size="7.7" text-anchor="end" font-weight="normal" fill="#1e1e1e" >20</text>
<line x1="367.90" y1="244.22" x2="370.50" y2="244.22" stroke="#1e1e1e" stroke-width="1.1"/>
<text x="364.50" y="246.57" font-size="7.7" text-anchor="end" font-weight="normal" fill="#1e1e1e" >40</text>
<line x1="367.90" y1="230.28" x2="370.50" y2="230.28" stroke="#1e1e1e" stroke-width="1.1"/>
<text x="364.50" y="232.63" font-size="7.7" text-anchor="end" font-weight="normal" fill="#1e1e1e" >60</text>
<line x1="367.90" y1="216.34" x2="370.50" y2="216.34" stroke="#1e1e1e" stroke-width="1.1"/>
<text x="364.50" y="218.69" font-size="7.7" text-anchor="end" font-weight="normal" fill="#1e1e1e" >80</text>
<line x1="367.90" y1="202.40" x2="370.50" y2="202.40" stroke="#1e1e1e" stroke-width="1.1"/>
<text x="364.50" y="204.75" font-size="7.7" text-anchor="end" font-weight="normal" fill="#1e1e1e" >100</text>
<line x1="369.30" y1="265.13" x2="370.50" y2="265.13" stroke="#1e1e1e" stroke-width="1.0"/>
<line x1="369.30" y1="251.19" x2="370.50" y2="251.19" stroke="#1e1e1e" stroke-width="1.0"/>
<line x1="369.30" y1="237.25" x2="370.50" y2="237.25" stroke="#1e1e1e" stroke-width="1.0"/>
<line x1="369.30" y1="223.31" x2="370.50" y2="223.31" stroke="#1e1e1e" stroke-width="1.0"/>
<line x1="369.30" y1="209.37" x2="370.50" y2="209.37" stroke="#1e1e1e" stroke-width="1.0"/>
<line x1="369.90" y1="272.10" x2="491.50" y2="272.10" stroke="#1e1e1e" stroke-width="1.4"/>
<line x1="497.30" y1="272.10" x2="513.30" y2="272.10" stroke="#1e1e1e" stroke-width="1.4"/>
<line x1="490.70" y1="274.00" x2="494.90" y2="270.20" stroke="#1e1e1e" stroke-width="1.2"/>
<line x1="494.50" y1="274.00" x2="498.70" y2="270.20" stroke="#1e1e1e" stroke-width="1.2"/>
<line x1="370.50" y1="272.10" x2="370.50" y2="274.80" stroke="#1e1e1e" stroke-width="1.1"/>
<text transform="translate(370.50,272.10) rotate(-45)" x="-4.2" y="8.7" font-size="7.7" text-anchor="end" fill="#1e1e1e">0</text>
<line x1="382.72" y1="272.10" x2="382.72" y2="274.80" stroke="#1e1e1e" stroke-width="1.1"/>
<text transform="translate(382.72,272.10) rotate(-45)" x="-4.2" y="8.7" font-size="7.7" text-anchor="end" fill="#1e1e1e">20</text>
<line x1="394.94" y1="272.10" x2="394.94" y2="274.80" stroke="#1e1e1e" stroke-width="1.1"/>
<text transform="translate(394.94,272.10) rotate(-45)" x="-4.2" y="8.7" font-size="7.7" text-anchor="end" fill="#1e1e1e">40</text>
<line x1="407.16" y1="272.10" x2="407.16" y2="274.80" stroke="#1e1e1e" stroke-width="1.1"/>
<text transform="translate(407.16,272.10) rotate(-45)" x="-4.2" y="8.7" font-size="7.7" text-anchor="end" fill="#1e1e1e">60</text>
<line x1="419.38" y1="272.10" x2="419.38" y2="274.80" stroke="#1e1e1e" stroke-width="1.1"/>
<text transform="translate(419.38,272.10) rotate(-45)" x="-4.2" y="8.7" font-size="7.7" text-anchor="end" fill="#1e1e1e">80</text>
<line x1="431.60" y1="272.10" x2="431.60" y2="274.80" stroke="#1e1e1e" stroke-width="1.1"/>
<text transform="translate(431.60,272.10) rotate(-45)" x="-4.2" y="8.7" font-size="7.7" text-anchor="end" fill="#1e1e1e">100</text>
<line x1="443.82" y1="272.10" x2="443.82" y2="274.80" stroke="#1e1e1e" stroke-width="1.1"/>
<text transform="translate(443.82,272.10) rotate(-45)" x="-4.2" y="8.7" font-size="7.7" text-anchor="end" fill="#1e1e1e">120</text>
<line x1="456.04" y1="272.10" x2="456.04" y2="274.80" stroke="#1e1e1e" stroke-width="1.1"/>
<text transform="translate(456.04,272.10) rotate(-45)" x="-4.2" y="8.7" font-size="7.7" text-anchor="end" fill="#1e1e1e">140</text>
<line x1="468.26" y1="272.10" x2="468.26" y2="274.80" stroke="#1e1e1e" stroke-width="1.1"/>
<text transform="translate(468.26,272.10) rotate(-45)" x="-4.2" y="8.7" font-size="7.7" text-anchor="end" fill="#1e1e1e">160</text>
<line x1="480.48" y1="272.10" x2="480.48" y2="274.80" stroke="#1e1e1e" stroke-width="1.1"/>
<text transform="translate(480.48,272.10) rotate(-45)" x="-4.2" y="8.7" font-size="7.7" text-anchor="end" fill="#1e1e1e">180</text>
<line x1="376.61" y1="272.10" x2="376.61" y2="273.40" stroke="#1e1e1e" stroke-width="1.0"/>
<line x1="388.83" y1="272.10" x2="388.83" y2="273.40" stroke="#1e1e1e" stroke-width="1.0"/>
<line x1="401.05" y1="272.10" x2="401.05" y2="273.40" stroke="#1e1e1e" stroke-width="1.0"/>
<line x1="413.27" y1="272.10" x2="413.27" y2="273.40" stroke="#1e1e1e" stroke-width="1.0"/>
<line x1="425.49" y1="272.10" x2="425.49" y2="273.40" stroke="#1e1e1e" stroke-width="1.0"/>
<line x1="437.71" y1="272.10" x2="437.71" y2="273.40" stroke="#1e1e1e" stroke-width="1.0"/>
<line x1="449.93" y1="272.10" x2="449.93" y2="273.40" stroke="#1e1e1e" stroke-width="1.0"/>
<line x1="462.15" y1="272.10" x2="462.15" y2="273.40" stroke="#1e1e1e" stroke-width="1.0"/>
<line x1="474.37" y1="272.10" x2="474.37" y2="273.40" stroke="#1e1e1e" stroke-width="1.0"/>
<line x1="486.59" y1="272.10" x2="486.59" y2="273.40" stroke="#1e1e1e" stroke-width="1.0"/>
<line x1="496.80" y1="272.10" x2="496.80" y2="274.80" stroke="#1e1e1e" stroke-width="1.1"/>
<text transform="translate(496.80,272.10) rotate(-45)" x="-4.2" y="8.7" font-size="7.7" text-anchor="end" fill="#1e1e1e">440</text>
<line x1="510.60" y1="272.10" x2="510.60" y2="274.80" stroke="#1e1e1e" stroke-width="1.1"/>
<text transform="translate(510.60,272.10) rotate(-45)" x="-4.2" y="8.7" font-size="7.7" text-anchor="end" fill="#1e1e1e">460</text>
<line x1="503.70" y1="272.10" x2="503.70" y2="273.40" stroke="#1e1e1e" stroke-width="1.0"/>
<line x1="44.60" y1="320.50" x2="44.60" y2="416.90" stroke="#1e1e1e" stroke-width="1.3"/>
<line x1="42.00" y1="416.30" x2="44.60" y2="416.30" stroke="#1e1e1e" stroke-width="1.1"/>
<text x="38.60" y="418.65" font-size="7.7" text-anchor="end" font-weight="normal" fill="#1e1e1e" >0</text>
<line x1="42.00" y1="393.00" x2="44.60" y2="393.00" stroke="#1e1e1e" stroke-width="1.1"/>
<text x="38.60" y="395.35" font-size="7.7" text-anchor="end" font-weight="normal" fill="#1e1e1e" >1</text>
<line x1="42.00" y1="369.70" x2="44.60" y2="369.70" stroke="#1e1e1e" stroke-width="1.1"/>
<text x="38.60" y="372.05" font-size="7.7" text-anchor="end" font-weight="normal" fill="#1e1e1e" >2</text>
<line x1="42.00" y1="346.40" x2="44.60" y2="346.40" stroke="#1e1e1e" stroke-width="1.1"/>
<text x="38.60" y="348.75" font-size="7.7" text-anchor="end" font-weight="normal" fill="#1e1e1e" >3</text>
<line x1="42.00" y1="323.10" x2="44.60" y2="323.10" stroke="#1e1e1e" stroke-width="1.1"/>
<text x="38.60" y="325.45" font-size="7.7" text-anchor="end" font-weight="normal" fill="#1e1e1e" >4</text>
<line x1="43.40" y1="404.65" x2="44.60" y2="404.65" stroke="#1e1e1e" stroke-width="1.0"/>
<line x1="43.40" y1="381.35" x2="44.60" y2="381.35" stroke="#1e1e1e" stroke-width="1.0"/>
<line x1="43.40" y1="358.05" x2="44.60" y2="358.05" stroke="#1e1e1e" stroke-width="1.0"/>
<line x1="43.40" y1="334.75" x2="44.60" y2="334.75" stroke="#1e1e1e" stroke-width="1.0"/>
<line x1="44.00" y1="416.30" x2="140.90" y2="416.30" stroke="#1e1e1e" stroke-width="1.4"/>
<line x1="44.60" y1="416.30" x2="44.60" y2="419.00" stroke="#1e1e1e" stroke-width="1.1"/>
<text transform="translate(44.60,416.30) rotate(-45)" x="-4.2" y="8.7" font-size="7.7" text-anchor="end" fill="#1e1e1e">0</text>
<line x1="68.10" y1="416.30" x2="68.10" y2="419.00" stroke="#1e1e1e" stroke-width="1.1"/>
<text transform="translate(68.10,416.30) rotate(-45)" x="-4.2" y="8.7" font-size="7.7" text-anchor="end" fill="#1e1e1e">5</text>
<line x1="91.60" y1="416.30" x2="91.60" y2="419.00" stroke="#1e1e1e" stroke-width="1.1"/>
<text transform="translate(91.60,416.30) rotate(-45)" x="-4.2" y="8.7" font-size="7.7" text-anchor="end" fill="#1e1e1e">10</text>
<line x1="115.10" y1="416.30" x2="115.10" y2="419.00" stroke="#1e1e1e" stroke-width="1.1"/>
<text transform="translate(115.10,416.30) rotate(-45)" x="-4.2" y="8.7" font-size="7.7" text-anchor="end" fill="#1e1e1e">15</text>
<line x1="138.60" y1="416.30" x2="138.60" y2="419.00" stroke="#1e1e1e" stroke-width="1.1"/>
<text transform="translate(138.60,416.30) rotate(-45)" x="-4.2" y="8.7" font-size="7.7" text-anchor="end" fill="#1e1e1e">20</text>
<line x1="56.35" y1="416.30" x2="56.35" y2="417.60" stroke="#1e1e1e" stroke-width="1.0"/>
<line x1="79.85" y1="416.30" x2="79.85" y2="417.60" stroke="#1e1e1e" stroke-width="1.0"/>
<line x1="103.35" y1="416.30" x2="103.35" y2="417.60" stroke="#1e1e1e" stroke-width="1.0"/>
<line x1="126.85" y1="416.30" x2="126.85" y2="417.60" stroke="#1e1e1e" stroke-width="1.0"/>
<line x1="184.50" y1="343.70" x2="184.50" y2="416.90" stroke="#1e1e1e" stroke-width="1.3"/>
<line x1="181.90" y1="416.30" x2="184.50" y2="416.30" stroke="#1e1e1e" stroke-width="1.1"/>
<text x="178.50" y="418.65" font-size="7.7" text-anchor="end" font-weight="normal" fill="#1e1e1e" >0</text>
<line x1="181.90" y1="402.30" x2="184.50" y2="402.30" stroke="#1e1e1e" stroke-width="1.1"/>
<text x="178.50" y="404.65" font-size="7.7" text-anchor="end" font-weight="normal" fill="#1e1e1e" >2</text>
<line x1="181.90" y1="388.30" x2="184.50" y2="388.30" stroke="#1e1e1e" stroke-width="1.1"/>
<text x="178.50" y="390.65" font-size="7.7" text-anchor="end" font-weight="normal" fill="#1e1e1e" >4</text>
<line x1="181.90" y1="374.30" x2="184.50" y2="374.30" stroke="#1e1e1e" stroke-width="1.1"/>
<text x="178.50" y="376.65" font-size="7.7" text-anchor="end" font-weight="normal" fill="#1e1e1e" >6</text>
<line x1="181.90" y1="360.30" x2="184.50" y2="360.30" stroke="#1e1e1e" stroke-width="1.1"/>
<text x="178.50" y="362.65" font-size="7.7" text-anchor="end" font-weight="normal" fill="#1e1e1e" >8</text>
<line x1="181.90" y1="346.30" x2="184.50" y2="346.30" stroke="#1e1e1e" stroke-width="1.1"/>
<text x="178.50" y="348.65" font-size="7.7" text-anchor="end" font-weight="normal" fill="#1e1e1e" >10</text>
<line x1="183.30" y1="409.30" x2="184.50" y2="409.30" stroke="#1e1e1e" stroke-width="1.0"/>
<line x1="183.30" y1="395.30" x2="184.50" y2="395.30" stroke="#1e1e1e" stroke-width="1.0"/>
<line x1="183.30" y1="381.30" x2="184.50" y2="381.30" stroke="#1e1e1e" stroke-width="1.0"/>
<line x1="183.30" y1="367.30" x2="184.50" y2="367.30" stroke="#1e1e1e" stroke-width="1.0"/>
<line x1="183.30" y1="353.30" x2="184.50" y2="353.30" stroke="#1e1e1e" stroke-width="1.0"/>
<line x1="183.90" y1="416.30" x2="305.50" y2="416.30" stroke="#1e1e1e" stroke-width="1.4"/>
<line x1="311.30" y1="416.30" x2="327.30" y2="416.30" stroke="#1e1e1e" stroke-width="1.4"/>
<line x1="304.70" y1="418.20" x2="308.90" y2="414.40" stroke="#1e1e1e" stroke-width="1.2"/>
<line x1="308.50" y1="418.20" x2="312.70" y2="414.40" stroke="#1e1e1e" stroke-width="1.2"/>
<line x1="184.50" y1="416.30" x2="184.50" y2="419.00" stroke="#1e1e1e" stroke-width="1.1"/>
<text transform="translate(184.50,416.30) rotate(-45)" x="-4.2" y="8.7" font-size="7.7" text-anchor="end" fill="#1e1e1e">0</text>
<line x1="196.72" y1="416.30" x2="196.72" y2="419.00" stroke="#1e1e1e" stroke-width="1.1"/>
<text transform="translate(196.72,416.30) rotate(-45)" x="-4.2" y="8.7" font-size="7.7" text-anchor="end" fill="#1e1e1e">20</text>
<line x1="208.94" y1="416.30" x2="208.94" y2="419.00" stroke="#1e1e1e" stroke-width="1.1"/>
<text transform="translate(208.94,416.30) rotate(-45)" x="-4.2" y="8.7" font-size="7.7" text-anchor="end" fill="#1e1e1e">40</text>
<line x1="221.16" y1="416.30" x2="221.16" y2="419.00" stroke="#1e1e1e" stroke-width="1.1"/>
<text transform="translate(221.16,416.30) rotate(-45)" x="-4.2" y="8.7" font-size="7.7" text-anchor="end" fill="#1e1e1e">60</text>
<line x1="233.38" y1="416.30" x2="233.38" y2="419.00" stroke="#1e1e1e" stroke-width="1.1"/>
<text transform="translate(233.38,416.30) rotate(-45)" x="-4.2" y="8.7" font-size="7.7" text-anchor="end" fill="#1e1e1e">80</text>
<line x1="245.60" y1="416.30" x2="245.60" y2="419.00" stroke="#1e1e1e" stroke-width="1.1"/>
<text transform="translate(245.60,416.30) rotate(-45)" x="-4.2" y="8.7" font-size="7.7" text-anchor="end" fill="#1e1e1e">100</text>
<line x1="257.82" y1="416.30" x2="257.82" y2="419.00" stroke="#1e1e1e" stroke-width="1.1"/>
<text transform="translate(257.82,416.30) rotate(-45)" x="-4.2" y="8.7" font-size="7.7" text-anchor="end" fill="#1e1e1e">120</text>
<line x1="270.04" y1="416.30" x2="270.04" y2="419.00" stroke="#1e1e1e" stroke-width="1.1"/>
<text transform="translate(270.04,416.30) rotate(-45)" x="-4.2" y="8.7" font-size="7.7" text-anchor="end" fill="#1e1e1e">140</text>
<line x1="282.26" y1="416.30" x2="282.26" y2="419.00" stroke="#1e1e1e" stroke-width="1.1"/>
<text transform="translate(282.26,416.30) rotate(-45)" x="-4.2" y="8.7" font-size="7.7" text-anchor="end" fill="#1e1e1e">160</text>
<line x1="294.48" y1="416.30" x2="294.48" y2="419.00" stroke="#1e1e1e" stroke-width="1.1"/>
<text transform="translate(294.48,416.30) rotate(-45)" x="-4.2" y="8.7" font-size="7.7" text-anchor="end" fill="#1e1e1e">180</text>
<line x1="190.61" y1="416.30" x2="190.61" y2="417.60" stroke="#1e1e1e" stroke-width="1.0"/>
<line x1="202.83" y1="416.30" x2="202.83" y2="417.60" stroke="#1e1e1e" stroke-width="1.0"/>
<line x1="215.05" y1="416.30" x2="215.05" y2="417.60" stroke="#1e1e1e" stroke-width="1.0"/>
<line x1="227.27" y1="416.30" x2="227.27" y2="417.60" stroke="#1e1e1e" stroke-width="1.0"/>
<line x1="239.49" y1="416.30" x2="239.49" y2="417.60" stroke="#1e1e1e" stroke-width="1.0"/>
<line x1="251.71" y1="416.30" x2="251.71" y2="417.60" stroke="#1e1e1e" stroke-width="1.0"/>
<line x1="263.93" y1="416.30" x2="263.93" y2="417.60" stroke="#1e1e1e" stroke-width="1.0"/>
<line x1="276.15" y1="416.30" x2="276.15" y2="417.60" stroke="#1e1e1e" stroke-width="1.0"/>
<line x1="288.37" y1="416.30" x2="288.37" y2="417.60" stroke="#1e1e1e" stroke-width="1.0"/>
<line x1="300.59" y1="416.30" x2="300.59" y2="417.60" stroke="#1e1e1e" stroke-width="1.0"/>
<line x1="310.80" y1="416.30" x2="310.80" y2="419.00" stroke="#1e1e1e" stroke-width="1.1"/>
<text transform="translate(310.80,416.30) rotate(-45)" x="-4.2" y="8.7" font-size="7.7" text-anchor="end" fill="#1e1e1e">440</text>
<line x1="324.60" y1="416.30" x2="324.60" y2="419.00" stroke="#1e1e1e" stroke-width="1.1"/>
<text transform="translate(324.60,416.30) rotate(-45)" x="-4.2" y="8.7" font-size="7.7" text-anchor="end" fill="#1e1e1e">460</text>
<line x1="317.70" y1="416.30" x2="317.70" y2="417.60" stroke="#1e1e1e" stroke-width="1.0"/>
<line x1="370.50" y1="343.30" x2="370.50" y2="416.90" stroke="#1e1e1e" stroke-width="1.3"/>
<line x1="367.90" y1="416.30" x2="370.50" y2="416.30" stroke="#1e1e1e" stroke-width="1.1"/>
<text x="364.50" y="418.65" font-size="7.7" text-anchor="end" font-weight="normal" fill="#1e1e1e" >0</text>
<line x1="367.90" y1="398.70" x2="370.50" y2="398.70" stroke="#1e1e1e" stroke-width="1.1"/>
<text x="364.50" y="401.05" font-size="7.7" text-anchor="end" font-weight="normal" fill="#1e1e1e" >1</text>
<line x1="367.90" y1="381.10" x2="370.50" y2="381.10" stroke="#1e1e1e" stroke-width="1.1"/>
<text x="364.50" y="383.45" font-size="7.7" text-anchor="end" font-weight="normal" fill="#1e1e1e" >2</text>
<line x1="367.90" y1="363.50" x2="370.50" y2="363.50" stroke="#1e1e1e" stroke-width="1.1"/>
<text x="364.50" y="365.85" font-size="7.7" text-anchor="end" font-weight="normal" fill="#1e1e1e" >3</text>
<line x1="367.90" y1="345.90" x2="370.50" y2="345.90" stroke="#1e1e1e" stroke-width="1.1"/>
<text x="364.50" y="348.25" font-size="7.7" text-anchor="end" font-weight="normal" fill="#1e1e1e" >4</text>
<line x1="369.30" y1="407.50" x2="370.50" y2="407.50" stroke="#1e1e1e" stroke-width="1.0"/>
<line x1="369.30" y1="389.90" x2="370.50" y2="389.90" stroke="#1e1e1e" stroke-width="1.0"/>
<line x1="369.30" y1="372.30" x2="370.50" y2="372.30" stroke="#1e1e1e" stroke-width="1.0"/>
<line x1="369.30" y1="354.70" x2="370.50" y2="354.70" stroke="#1e1e1e" stroke-width="1.0"/>
<line x1="369.90" y1="416.30" x2="491.50" y2="416.30" stroke="#1e1e1e" stroke-width="1.4"/>
<line x1="497.30" y1="416.30" x2="513.30" y2="416.30" stroke="#1e1e1e" stroke-width="1.4"/>
<line x1="490.70" y1="418.20" x2="494.90" y2="414.40" stroke="#1e1e1e" stroke-width="1.2"/>
<line x1="494.50" y1="418.20" x2="498.70" y2="414.40" stroke="#1e1e1e" stroke-width="1.2"/>
<line x1="370.50" y1="416.30" x2="370.50" y2="419.00" stroke="#1e1e1e" stroke-width="1.1"/>
<text transform="translate(370.50,416.30) rotate(-45)" x="-4.2" y="8.7" font-size="7.7" text-anchor="end" fill="#1e1e1e">0</text>
<line x1="382.72" y1="416.30" x2="382.72" y2="419.00" stroke="#1e1e1e" stroke-width="1.1"/>
<text transform="translate(382.72,416.30) rotate(-45)" x="-4.2" y="8.7" font-size="7.7" text-anchor="end" fill="#1e1e1e">20</text>
<line x1="394.94" y1="416.30" x2="394.94" y2="419.00" stroke="#1e1e1e" stroke-width="1.1"/>
<text transform="translate(394.94,416.30) rotate(-45)" x="-4.2" y="8.7" font-size="7.7" text-anchor="end" fill="#1e1e1e">40</text>
<line x1="407.16" y1="416.30" x2="407.16" y2="419.00" stroke="#1e1e1e" stroke-width="1.1"/>
<text transform="translate(407.16,416.30) rotate(-45)" x="-4.2" y="8.7" font-size="7.7" text-anchor="end" fill="#1e1e1e">60</text>
<line x1="419.38" y1="416.30" x2="419.38" y2="419.00" stroke="#1e1e1e" stroke-width="1.1"/>
<text transform="translate(419.38,416.30) rotate(-45)" x="-4.2" y="8.7" font-size="7.7" text-anchor="end" fill="#1e1e1e">80</text>
<line x1="431.60" y1="416.30" x2="431.60" y2="419.00" stroke="#1e1e1e" stroke-width="1.1"/>
<text transform="translate(431.60,416.30) rotate(-45)" x="-4.2" y="8.7" font-size="7.7" text-anchor="end" fill="#1e1e1e">100</text>
<line x1="443.82" y1="416.30" x2="443.82" y2="419.00" stroke="#1e1e1e" stroke-width="1.1"/>
<text transform="translate(443.82,416.30) rotate(-45)" x="-4.2" y="8.7" font-size="7.7" text-anchor="end" fill="#1e1e1e">120</text>
<line x1="456.04" y1="416.30" x2="456.04" y2="419.00" stroke="#1e1e1e" stroke-width="1.1"/>
<text transform="translate(456.04,416.30) rotate(-45)" x="-4.2" y="8.7" font-size="7.7" text-anchor="end" fill="#1e1e1e">140</text>
<line x1="468.26" y1="416.30" x2="468.26" y2="419.00" stroke="#1e1e1e" stroke-width="1.1"/>
<text transform="translate(468.26,416.30) rotate(-45)" x="-4.2" y="8.7" font-size="7.7" text-anchor="end" fill="#1e1e1e">160</text>
<line x1="480.48" y1="416.30" x2="480.48" y2="419.00" stroke="#1e1e1e" stroke-width="1.1"/>
<text transform="translate(480.48,416.30) rotate(-45)" x="-4.2" y="8.7" font-size="7.7" text-anchor="end" fill="#1e1e1e">180</text>
<line x1="376.61" y1="416.30" x2="376.61" y2="417.60" stroke="#1e1e1e" stroke-width="1.0"/>
<line x1="388.83" y1="416.30" x2="388.83" y2="417.60" stroke="#1e1e1e" stroke-width="1.0"/>
<line x1="401.05" y1="416.30" x2="401.05" y2="417.60" stroke="#1e1e1e" stroke-width="1.0"/>
<line x1="413.27" y1="416.30" x2="413.27" y2="417.60" stroke="#1e1e1e" stroke-width="1.0"/>
<line x1="425.49" y1="416.30" x2="425.49" y2="417.60" stroke="#1e1e1e" stroke-width="1.0"/>
<line x1="437.71" y1="416.30" x2="437.71" y2="417.60" stroke="#1e1e1e" stroke-width="1.0"/>
<line x1="449.93" y1="416.30" x2="449.93" y2="417.60" stroke="#1e1e1e" stroke-width="1.0"/>
<line x1="462.15" y1="416.30" x2="462.15" y2="417.60" stroke="#1e1e1e" stroke-width="1.0"/>
<line x1="474.37" y1="416.30" x2="474.37" y2="417.60" stroke="#1e1e1e" stroke-width="1.0"/>
<line x1="486.59" y1="416.30" x2="486.59" y2="417.60" stroke="#1e1e1e" stroke-width="1.0"/>
<line x1="496.80" y1="416.30" x2="496.80" y2="419.00" stroke="#1e1e1e" stroke-width="1.1"/>
<text transform="translate(496.80,416.30) rotate(-45)" x="-4.2" y="8.7" font-size="7.7" text-anchor="end" fill="#1e1e1e">440</text>
<line x1="510.60" y1="416.30" x2="510.60" y2="419.00" stroke="#1e1e1e" stroke-width="1.1"/>
<text transform="translate(510.60,416.30) rotate(-45)" x="-4.2" y="8.7" font-size="7.7" text-anchor="end" fill="#1e1e1e">460</text>
<line x1="503.70" y1="416.30" x2="503.70" y2="417.60" stroke="#1e1e1e" stroke-width="1.0"/>
<line x1="76.00" y1="111.20" x2="117.30" y2="114.70" stroke="#2a2a2a" stroke-width="1.05"/>
<line x1="184.50" y1="122.70" x2="306.00" y2="110.30" stroke="#2a2a2a" stroke-width="1.05"/>
<line x1="310.60" y1="94.90" x2="323.75" y2="93.30" stroke="#2a2a2a" stroke-width="1.05"/>
<line x1="370.50" y1="121.20" x2="492.50" y2="107.60" stroke="#2a2a2a" stroke-width="1.05"/>
<line x1="496.80" y1="91.50" x2="509.90" y2="89.90" stroke="#2a2a2a" stroke-width="1.05"/>
<line x1="76.50" y1="219.70" x2="117.70" y2="234.00" stroke="#2a2a2a" stroke-width="1.05"/>
<line x1="184.50" y1="240.40" x2="306.40" y2="235.10" stroke="#2a2a2a" stroke-width="1.05"/>
<line x1="311.10" y1="229.20" x2="323.90" y2="228.40" stroke="#2a2a2a" stroke-width="1.05"/>
<line x1="370.50" y1="240.40" x2="492.40" y2="234.20" stroke="#2a2a2a" stroke-width="1.05"/>
<line x1="496.70" y1="226.40" x2="509.90" y2="225.60" stroke="#2a2a2a" stroke-width="1.05"/>
<line x1="75.90" y1="395.10" x2="116.40" y2="370.80" stroke="#2a2a2a" stroke-width="1.05"/>
<line x1="184.50" y1="404.20" x2="306.20" y2="406.90" stroke="#2a2a2a" stroke-width="1.05"/>
<line x1="311.50" y1="410.30" x2="323.50" y2="411.50" stroke="#2a2a2a" stroke-width="1.05"/>
<line x1="370.50" y1="388.90" x2="492.60" y2="400.00" stroke="#2a2a2a" stroke-width="1.05"/>
<line x1="497.50" y1="412.30" x2="509.50" y2="413.40" stroke="#2a2a2a" stroke-width="1.05"/>
<circle cx="95.70" cy="53.80" r="1.9" fill="#920b28"/>
<circle cx="84.20" cy="76.20" r="1.9" fill="#920b28"/>
<circle cx="117.50" cy="91.60" r="1.9" fill="#920b28"/>
<circle cx="75.50" cy="119.30" r="1.9" fill="#920b28"/>
<circle cx="81.50" cy="123.90" r="1.9" fill="#920b28"/>
<circle cx="94.50" cy="123.50" r="1.9" fill="#920b28"/>
<circle cx="97.20" cy="125.40" r="1.9" fill="#920b28"/>
<circle cx="92.20" cy="126.90" r="1.9" fill="#920b28"/>
<circle cx="101.80" cy="126.20" r="1.9" fill="#920b28"/>
<circle cx="104.90" cy="117.20" r="1.9" fill="#920b28"/>
<circle cx="108.30" cy="122.40" r="1.9" fill="#920b28"/>
<circle cx="109.80" cy="127.40" r="1.9" fill="#920b28"/>
<circle cx="117.50" cy="118.20" r="1.9" fill="#920b28"/>
<circle cx="204.00" cy="72.70" r="1.9" fill="#920b28"/>
<circle cx="236.90" cy="89.80" r="1.9" fill="#920b28"/>
<circle cx="188.10" cy="100.50" r="1.9" fill="#920b28"/>
<circle cx="185.80" cy="120.60" r="1.9" fill="#920b28"/>
<circle cx="188.30" cy="124.40" r="1.9" fill="#920b28"/>
<circle cx="185.50" cy="126.40" r="1.9" fill="#920b28"/>
<circle cx="199.00" cy="125.00" r="1.9" fill="#920b28"/>
<circle cx="201.30" cy="120.20" r="1.9" fill="#920b28"/>
<circle cx="205.20" cy="124.10" r="1.9" fill="#920b28"/>
<circle cx="212.30" cy="126.70" r="1.9" fill="#920b28"/>
<circle cx="217.30" cy="121.50" r="1.9" fill="#920b28"/>
<circle cx="222.10" cy="126.70" r="1.9" fill="#920b28"/>
<circle cx="224.80" cy="120.60" r="1.9" fill="#920b28"/>
<circle cx="224.80" cy="127.30" r="1.9" fill="#920b28"/>
<circle cx="228.50" cy="120.20" r="1.9" fill="#920b28"/>
<circle cx="229.00" cy="127.10" r="1.9" fill="#920b28"/>
<circle cx="233.30" cy="127.50" r="1.9" fill="#920b28"/>
<circle cx="235.20" cy="114.90" r="1.9" fill="#920b28"/>
<circle cx="238.50" cy="124.10" r="1.9" fill="#920b28"/>
<circle cx="257.20" cy="127.20" r="1.9" fill="#920b28"/>
<circle cx="263.30" cy="127.60" r="1.9" fill="#920b28"/>
<circle cx="291.50" cy="124.70" r="1.9" fill="#920b28"/>
<circle cx="291.50" cy="126.80" r="1.9" fill="#920b28"/>
<circle cx="323.75" cy="76.25" r="1.9" fill="#920b28"/>
<circle cx="390.20" cy="72.80" r="1.9" fill="#920b28"/>
<circle cx="423.40" cy="89.60" r="1.9" fill="#920b28"/>
<circle cx="374.10" cy="100.60" r="1.9" fill="#920b28"/>
<circle cx="372.20" cy="120.50" r="1.9" fill="#920b28"/>
<circle cx="371.50" cy="126.30" r="1.9" fill="#920b28"/>
<circle cx="385.50" cy="125.20" r="1.9" fill="#920b28"/>
<circle cx="391.30" cy="124.00" r="1.9" fill="#920b28"/>
<circle cx="398.40" cy="127.10" r="1.9" fill="#920b28"/>
<circle cx="403.40" cy="121.60" r="1.9" fill="#920b28"/>
<circle cx="408.40" cy="126.80" r="1.9" fill="#920b28"/>
<circle cx="411.20" cy="127.40" r="1.9" fill="#920b28"/>
<circle cx="414.70" cy="120.10" r="1.9" fill="#920b28"/>
<circle cx="415.60" cy="127.40" r="1.9" fill="#920b28"/>
<circle cx="419.80" cy="127.90" r="1.9" fill="#920b28"/>
<circle cx="509.60" cy="77.00" r="1.9" fill="#920b28"/>
<circle cx="477.60" cy="125.40" r="1.9" fill="#920b28"/>
<circle cx="477.60" cy="127.00" r="1.9" fill="#920b28"/>
<circle cx="84.90" cy="190.00" r="1.9" fill="#920b28"/>
<circle cx="101.40" cy="210.70" r="1.9" fill="#920b28"/>
<circle cx="105.10" cy="214.60" r="1.9" fill="#920b28"/>
<circle cx="117.70" cy="212.90" r="1.9" fill="#920b28"/>
<circle cx="94.60" cy="216.40" r="1.9" fill="#920b28"/>
<circle cx="75.40" cy="222.30" r="1.9" fill="#920b28"/>
<circle cx="82.00" cy="220.60" r="1.9" fill="#920b28"/>
<circle cx="94.80" cy="226.10" r="1.9" fill="#920b28"/>
<circle cx="97.40" cy="236.00" r="1.9" fill="#920b28"/>
<circle cx="91.90" cy="244.30" r="1.9" fill="#920b28"/>
<circle cx="108.00" cy="240.60" r="1.9" fill="#920b28"/>
<circle cx="109.50" cy="243.70" r="1.9" fill="#920b28"/>
<circle cx="117.70" cy="241.70" r="1.9" fill="#920b28"/>
<circle cx="95.70" cy="265.20" r="1.9" fill="#920b28"/>
<circle cx="237.10" cy="210.80" r="1.9" fill="#920b28"/>
<circle cx="188.20" cy="227.30" r="1.9" fill="#920b28"/>
<circle cx="199.20" cy="230.40" r="1.9" fill="#920b28"/>
<circle cx="222.30" cy="226.20" r="1.9" fill="#920b28"/>
<circle cx="224.80" cy="228.40" r="1.9" fill="#920b28"/>
<circle cx="228.90" cy="228.80" r="1.9" fill="#920b28"/>
<circle cx="212.00" cy="233.90" r="1.9" fill="#920b28"/>
<circle cx="217.40" cy="235.00" r="1.9" fill="#920b28"/>
<circle cx="229.40" cy="237.30" r="1.9" fill="#920b28"/>
<circle cx="185.40" cy="245.00" r="1.9" fill="#920b28"/>
<circle cx="186.30" cy="249.60" r="1.9" fill="#920b28"/>
<circle cx="201.70" cy="244.20" r="1.9" fill="#920b28"/>
<circle cx="205.40" cy="248.80" r="1.9" fill="#920b28"/>
<circle cx="225.10" cy="250.70" r="1.9" fill="#920b28"/>
<circle cx="233.50" cy="250.80" r="1.9" fill="#920b28"/>
<circle cx="238.60" cy="246.50" r="1.9" fill="#920b28"/>
<circle cx="235.10" cy="257.30" r="1.9" fill="#920b28"/>
<circle cx="204.00" cy="266.80" r="1.9" fill="#920b28"/>
<circle cx="263.50" cy="227.70" r="1.9" fill="#920b28"/>
<circle cx="257.40" cy="252.00" r="1.9" fill="#920b28"/>
<circle cx="291.60" cy="233.30" r="1.9" fill="#920b28"/>
<circle cx="291.60" cy="237.60" r="1.9" fill="#920b28"/>
<circle cx="323.90" cy="228.40" r="1.9" fill="#920b28"/>
<circle cx="423.10" cy="210.80" r="1.9" fill="#920b28"/>
<circle cx="374.20" cy="227.30" r="1.9" fill="#920b28"/>
<circle cx="385.20" cy="230.40" r="1.9" fill="#920b28"/>
<circle cx="408.30" cy="226.20" r="1.9" fill="#920b28"/>
<circle cx="414.50" cy="228.80" r="1.9" fill="#920b28"/>
<circle cx="398.00" cy="233.90" r="1.9" fill="#920b28"/>
<circle cx="403.40" cy="235.00" r="1.9" fill="#920b28"/>
<circle cx="415.40" cy="237.30" r="1.9" fill="#920b28"/>
<circle cx="371.40" cy="245.00" r="1.9" fill="#920b28"/>
<circle cx="372.30" cy="249.60" r="1.9" fill="#920b28"/>
<circle cx="391.40" cy="248.80" r="1.9" fill="#920b28"/>
<circle cx="411.10" cy="250.70" r="1.9" fill="#920b28"/>
<circle cx="419.50" cy="251.20" r="1.9" fill="#920b28"/>
<circle cx="390.00" cy="266.80" r="1.9" fill="#920b28"/>
<circle cx="477.60" cy="233.30" r="1.9" fill="#920b28"/>
<circle cx="477.60" cy="238.30" r="1.9" fill="#920b28"/>
<circle cx="509.90" cy="228.40" r="1.9" fill="#920b28"/>
<circle cx="117.50" cy="349.90" r="1.9" fill="#920b28"/>
<circle cx="97.30" cy="357.80" r="1.9" fill="#920b28"/>
<circle cx="92.10" cy="370.10" r="1.9" fill="#920b28"/>
<circle cx="117.50" cy="368.60" r="1.9" fill="#920b28"/>
<circle cx="75.70" cy="376.40" r="1.9" fill="#920b28"/>
<circle cx="105.20" cy="376.40" r="1.9" fill="#920b28"/>
<circle cx="109.50" cy="378.30" r="1.9" fill="#920b28"/>
<circle cx="95.50" cy="386.70" r="1.9" fill="#920b28"/>
<circle cx="108.20" cy="391.00" r="1.9" fill="#920b28"/>
<circle cx="82.00" cy="395.10" r="1.9" fill="#920b28"/>
<circle cx="101.40" cy="395.70" r="1.9" fill="#920b28"/>
<circle cx="84.30" cy="400.30" r="1.9" fill="#920b28"/>
<circle cx="94.50" cy="400.70" r="1.9" fill="#920b28"/>
<circle cx="94.50" cy="403.10" r="1.9" fill="#920b28"/>
<circle cx="235.10" cy="362.80" r="1.9" fill="#920b28"/>
<circle cx="185.80" cy="396.20" r="1.9" fill="#920b28"/>
<circle cx="185.40" cy="398.50" r="1.9" fill="#920b28"/>
<circle cx="188.50" cy="402.30" r="1.9" fill="#920b28"/>
<circle cx="188.50" cy="406.20" r="1.9" fill="#920b28"/>
<circle cx="199.20" cy="411.80" r="1.9" fill="#920b28"/>
<circle cx="201.70" cy="415.40" r="1.9" fill="#920b28"/>
<circle cx="204.30" cy="407.70" r="1.9" fill="#920b28"/>
<circle cx="205.40" cy="408.80" r="1.9" fill="#920b28"/>
<circle cx="212.00" cy="414.60" r="1.9" fill="#920b28"/>
<circle cx="217.40" cy="404.20" r="1.9" fill="#920b28"/>
<circle cx="222.30" cy="410.30" r="1.9" fill="#920b28"/>
<circle cx="224.80" cy="404.60" r="1.9" fill="#920b28"/>
<circle cx="224.80" cy="410.80" r="1.9" fill="#920b28"/>
<circle cx="228.50" cy="404.60" r="1.9" fill="#920b28"/>
<circle cx="229.40" cy="412.30" r="1.9" fill="#920b28"/>
<circle cx="233.50" cy="402.60" r="1.9" fill="#920b28"/>
<circle cx="237.40" cy="411.80" r="1.9" fill="#920b28"/>
<circle cx="238.60" cy="404.60" r="1.9" fill="#920b28"/>
<circle cx="263.50" cy="388.50" r="1.9" fill="#920b28"/>
<circle cx="257.40" cy="414.60" r="1.9" fill="#920b28"/>
<circle cx="291.50" cy="410.00" r="1.9" fill="#920b28"/>
<circle cx="291.50" cy="411.80" r="1.9" fill="#920b28"/>
<circle cx="323.80" cy="412.30" r="1.9" fill="#920b28"/>
<circle cx="372.70" cy="366.40" r="1.9" fill="#920b28"/>
<circle cx="371.30" cy="372.50" r="1.9" fill="#920b28"/>
<circle cx="374.40" cy="380.50" r="1.9" fill="#920b28"/>
<circle cx="403.30" cy="386.60" r="1.9" fill="#920b28"/>
<circle cx="410.80" cy="387.50" r="1.9" fill="#920b28"/>
<circle cx="414.90" cy="386.60" r="1.9" fill="#920b28"/>
<circle cx="419.60" cy="382.20" r="1.9" fill="#920b28"/>
<circle cx="390.30" cy="394.20" r="1.9" fill="#920b28"/>
<circle cx="391.50" cy="397.70" r="1.9" fill="#920b28"/>
<circle cx="408.20" cy="401.20" r="1.9" fill="#920b28"/>
<circle cx="385.30" cy="405.10" r="1.9" fill="#920b28"/>
<circle cx="415.20" cy="406.50" r="1.9" fill="#920b28"/>
<circle cx="423.20" cy="404.70" r="1.9" fill="#920b28"/>
<circle cx="398.00" cy="412.10" r="1.9" fill="#920b28"/>
<circle cx="477.80" cy="400.50" r="1.9" fill="#920b28"/>
<circle cx="477.80" cy="405.10" r="1.9" fill="#920b28"/>
<circle cx="509.80" cy="406.60" r="1.9" fill="#920b28"/>
<rect x="0" y="0" width="520" height="1.15" fill="#151515"/>
<rect x="0" y="0" width="1.15" height="455" fill="#151515"/>
<rect x="518.75" y="0" width="1.25" height="455" fill="#151515"/>
<rect x="0" y="453.65" width="520" height="1.35" fill="#151515"/>
</svg>
</body></html>
